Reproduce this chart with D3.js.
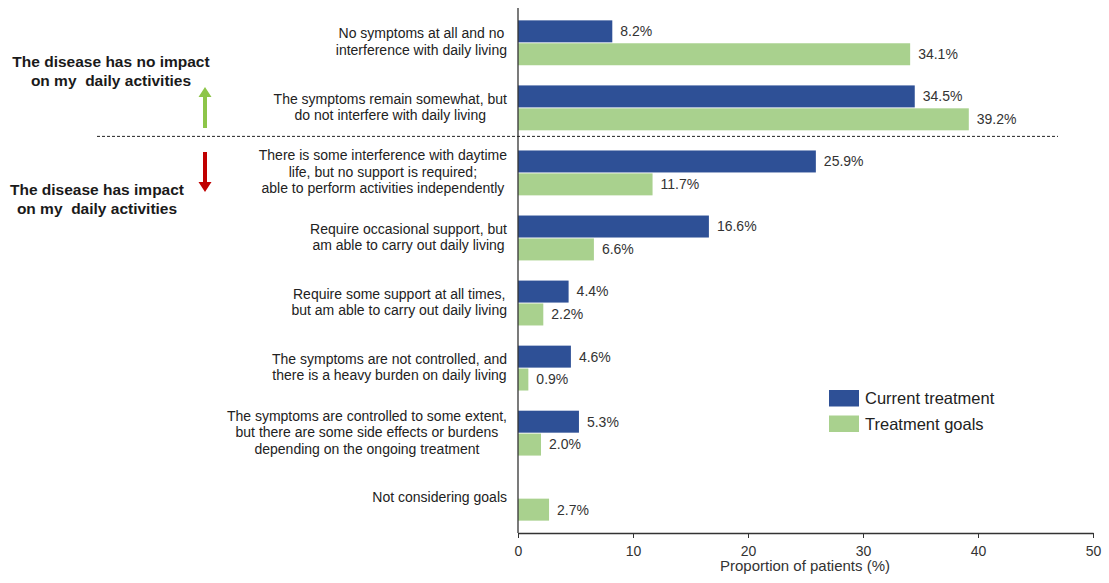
<!DOCTYPE html>
<html><head><meta charset="utf-8">
<script src="https://cdn.jsdelivr.net/npm/d3@7"></script>
<style>body{margin:0;background:#fff;} svg{display:block;font-family:"Liberation Sans",Arial,sans-serif;} text{white-space:pre;}</style>
</head><body>
<svg id="chart" width="1109" height="583"></svg>
<script>
const categories = [
  ["No symptoms at all and no", "interference with daily living"],
  ["The symptoms remain somewhat, but", "do not interfere with daily living"],
  ["There is some interference with daytime", "life, but no support is required;", "able to perform activities independently"],
  ["Require occasional support, but", "am able to carry out daily living"],
  ["Require some support at all times,", "but am able to carry out daily living"],
  ["The symptoms are not controlled, and", "there is a heavy burden on daily living"],
  ["The symptoms are controlled to some extent,", "but there are some side effects or burdens", "depending on the ongoing treatment"],
  ["Not considering goals"]
];
const currentTreatment = [8.2, 34.5, 25.9, 16.6, 4.4, 4.6, 5.3, null];
const treatmentGoals = [34.1, 39.2, 11.7, 6.6, 2.2, 0.9, 2.0, 2.7];
const seriesNames = ["Current treatment", "Treatment goals"];
const seriesColors = ["#2E5096", "#A9D18E"];
const xTicks = [0, 10, 20, 30, 40, 50];
const axisTitle = "Proportion of patients (%)";
const topNote = ["The disease has no impact", "on my  daily activities"];
const bottomNote = ["The disease has impact", "on my  daily activities"];

const svg = d3.select("#chart");
const x0 = 518, x1 = 1093, yTop = 8, yBot = 533;
const x = d3.scaleLinear().domain([0, 50]).range([x0, x1]);
const idx = categories.map((d, i) => i);
const y = d3.scaleBand().domain(idx).range([yTop, yBot]).paddingInner(0.31).paddingOuter(0.19);
const sub = d3.scaleBand().domain([0, 1]).range([0, y.bandwidth()]).paddingInner(0.04);

const rows = [];
idx.forEach(i => {
  rows.push({i, s: 0, v: currentTreatment[i]});
  rows.push({i, s: 1, v: treatmentGoals[i]});
});
const valid = rows.filter(r => r.v != null);

svg.append("g").selectAll("rect").data(valid).join("rect")
  .attr("x", x(0)).attr("y", d => y(d.i) + sub(d.s))
  .attr("width", d => x(d.v) - x(0)).attr("height", sub.bandwidth())
  .attr("fill", d => seriesColors[d.s]);

svg.append("g").selectAll("text").data(valid).join("text")
  .attr("x", d => x(d.v) + 8).attr("y", d => y(d.i) + sub(d.s) + sub.bandwidth() / 2)
  .attr("dy", "0.35em").attr("font-size", 14).attr("fill", "#333")
  .text(d => d.v.toFixed(1) + "%");

// category labels: centred block, right-aligned
const lh = 16.5;
const labG = svg.append("g").attr("font-size", 14).attr("fill", "#222");
categories.forEach((lines, i) => {
  const cy = y(i) + y.bandwidth() / 2 - 1;
  const g = labG.append("g");
  const ts = lines.map((t, k) => g.append("text")
    .attr("y", cy + (k - (lines.length - 1) / 2) * lh).attr("dy", "0.35em")
    .attr("text-anchor", "middle").text(t));
  const maxW = d3.max(ts, t => t.node().getComputedTextLength());
  ts.forEach(t => t.attr("x", 507 - maxW / 2));
});

// axis
const axis = d3.axisBottom(x).tickValues(xTicks).tickSize(5).tickSizeOuter(0).tickFormat(d3.format("d"));
const ag = svg.append("g").attr("transform", `translate(0,${yBot})`).call(axis);
ag.select(".domain").attr("stroke", "#333").attr("stroke-width", 1.3);
ag.selectAll(".tick line").attr("stroke", "#333");
ag.selectAll(".tick text").attr("font-size", 14).attr("fill", "#333").attr("font-family", "Liberation Sans, Arial, sans-serif").attr("dy", "1.05em");
svg.append("line").attr("x1", x0).attr("x2", x0).attr("y1", yTop).attr("y2", yBot).attr("stroke", "#333").attr("stroke-width", 1.3);
svg.append("text").attr("x", 805).attr("y", 571).attr("text-anchor", "middle")
  .attr("font-size", 15).attr("fill", "#333").text(axisTitle);

// dashed divider between categories 2 and 3
const divY = (y(1) + y.bandwidth() + y(2)) / 2 - 4;
svg.append("line").attr("x1", 97).attr("x2", 1058).attr("y1", divY).attr("y2", divY)
  .attr("stroke", "#222").attr("stroke-width", 1).attr("stroke-dasharray", "3,2");

// notes
const noteG = svg.append("g").attr("font-size", 15.5).attr("font-weight", "bold").attr("fill", "#1a1a1a").attr("text-anchor", "middle");
topNote.forEach((t, k) => noteG.append("text").attr("x", 111).attr("y", 62 + k * 18.5).attr("dy", "0.35em").text(t));
bottomNote.forEach((t, k) => noteG.append("text").attr("x", 97).attr("y", 190 + k * 18.5).attr("dy", "0.35em").text(t));

function arrow(cx, yTail, yHead, color) {
  const dir = yHead < yTail ? -1 : 1;
  const hl = 10, hw = 6.5, sw = 2;
  const yb = yHead - dir * hl;
  svg.append("path").attr("fill", color).attr("d",
    `M${cx - sw},${yTail} L${cx - sw},${yb} L${cx - hw},${yb} L${cx},${yHead} L${cx + hw},${yb} L${cx + sw},${yb} L${cx + sw},${yTail} Z`);
}
arrow(205, 128, 87, "#8DC549");
arrow(205, 152, 192, "#C00000");

// legend
const lg = svg.append("g");
seriesNames.forEach((n, k) => {
  lg.append("rect").attr("x", 829).attr("y", 390 + k * 25.5).attr("width", 30).attr("height", 16.5).attr("fill", seriesColors[k]);
  lg.append("text").attr("x", 865).attr("y", 398.5 + k * 25.5).attr("dy", "0.35em").attr("font-size", 16.5).attr("fill", "#222").text(n);
});
</script>
</body></html>
